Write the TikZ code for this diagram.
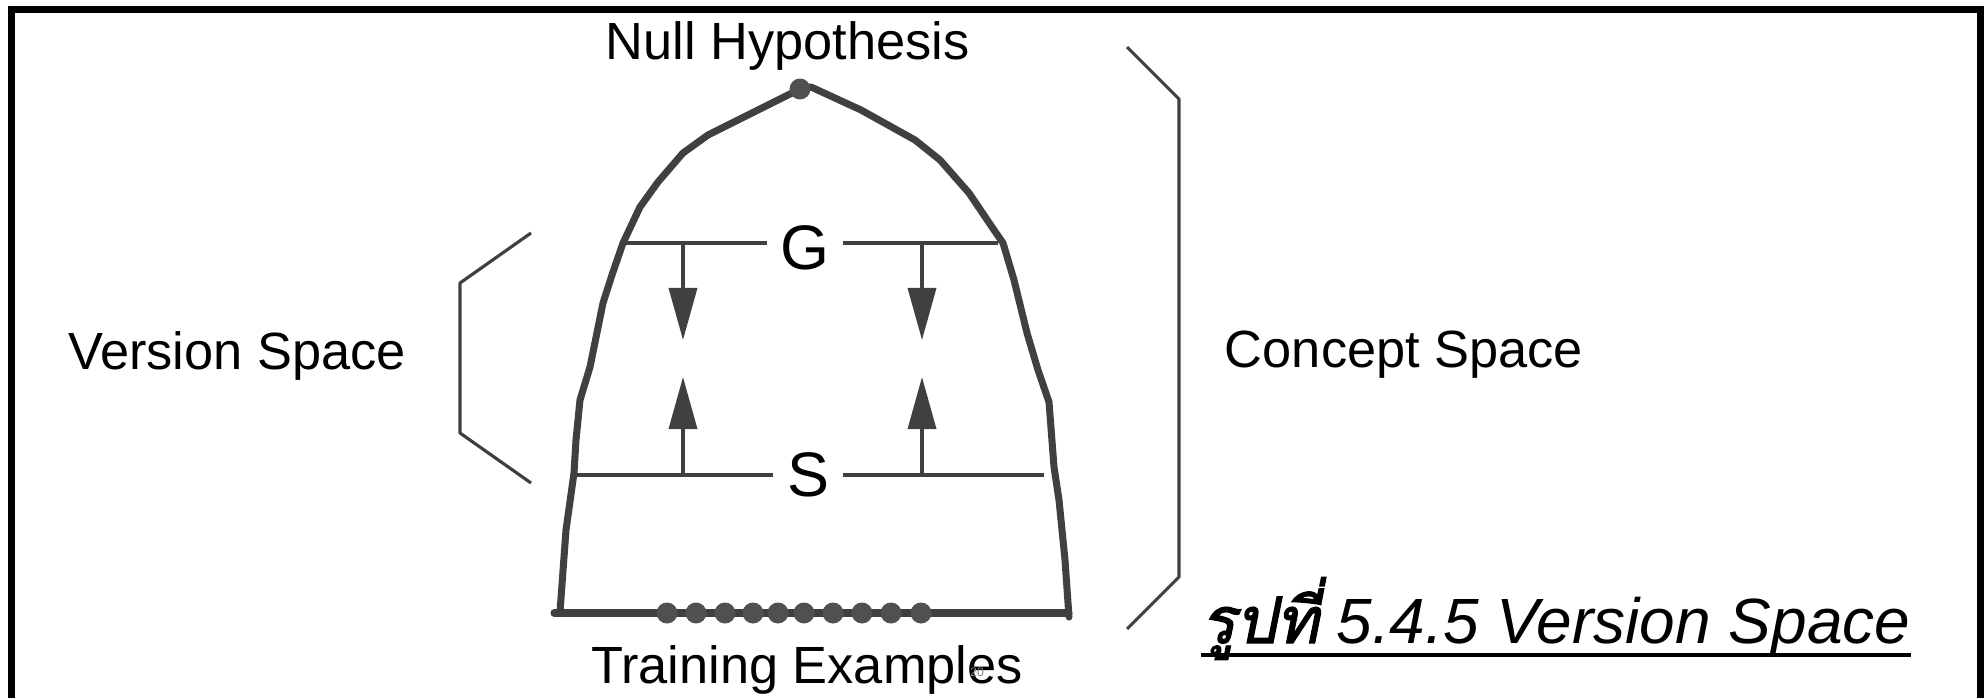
\documentclass[tikz,border=0pt]{standalone}
\usepackage{fontspec}
\setmainfont{Liberation Sans}
\newfontfamily\thaifont[Script=Thai, ItalicFont=Loma,
  ItalicFeatures={FakeSlant=0.2, FakeBold=2}]{Loma}
\definecolor{vsgray}{HTML}{404040}
\definecolor{dotgray}{HTML}{505050}
\usetikzlibrary{arrows.meta, positioning}

\begin{document}
\begin{tikzpicture}[
      lbl/.style={font=\fontsize{14.9}{18}\selectfont, inner sep=0},
      bound/.style={font=\fontsize{17.9}{21}\selectfont, inner ysep=0, inner xsep=1.3mm},
      title/.style={font=\fontsize{18.2}{21}\selectfont\itshape, inner sep=0},
      hull/.style={vsgray, line width=2pt, line join=round, line cap=round},
      bar/.style={vsgray, line width=1pt},
      brace/.style={vsgray, line width=0.9pt, line join=round},
      arrow/.style={-{Triangle[length=5.2mm, width=2.8mm]}, vsgray, line width=1pt},
      example/.style={circle, fill=dotgray, inner sep=0, minimum size=2.1mm}
    ]
      \useasboundingbox (0,0) rectangle (19.88,6.98);
      \draw[line width=2pt] (0.115,0) |- (19.80,6.885) -- (19.80,0);

      % concept space hull
      \draw[hull] (5.60,0.86) -- (5.66,1.68) -- (5.74,2.25) -- (5.76,2.58) -- (5.80,2.98)
        -- (5.90,3.31) -- (6.03,3.95) -- (6.12,4.23) -- (6.23,4.55) -- (6.40,4.91)
        -- (6.58,5.16) -- (6.83,5.45) -- (7.08,5.63) -- (7.54,5.86) -- (8.00,6.09)
        -- (8.11,6.11) -- (8.61,5.88) -- (9.15,5.58) -- (9.40,5.38) -- (9.69,5.05)
        -- (9.94,4.68) -- (10.03,4.55) -- (10.14,4.18) -- (10.27,3.65) -- (10.38,3.28)
        -- (10.49,2.96) -- (10.54,2.31) -- (10.59,1.98) -- (10.65,1.38) -- (10.69,0.81);
      \draw[hull] (5.54,0.85) -- (10.69,0.85);
      \node[example] (top) at (8.00,6.09) {};
      \foreach \x [count=\i] in {6.67,6.96,7.25,7.53,7.78,8.04,8.33,8.62,8.91,9.21}
        \node[example] (ex\i) at (\x,0.85) {};

      % G and S boundaries
      \node[bound] (G) at (8.05,4.50) {G};
      \node[bound] (S) at (8.08,2.23) {S};
      \coordinate (gl) at (6.24,4.55);
      \coordinate (gr) at (9.98,4.55);
      \coordinate (sl) at (5.75,2.23);
      \coordinate (sr) at (10.44,2.23);
      \draw[bar] (gl) -- (gl -| G.west);
      \draw[bar] (gr -| G.east) -- (gr);
      \draw[bar] (sl) -- (sl -| S.west);
      \draw[bar] (sr -| S.east) -- (sr);

      \coordinate (g1) at (6.83,4.55);
      \coordinate (g2) at (9.22,4.55);
      \coordinate (s1) at (6.83,2.23);
      \coordinate (s2) at (9.22,2.23);
      \coordinate (d1) at (6.83,3.58);
      \coordinate (d2) at (9.22,3.58);
      \coordinate (u1) at (6.83,3.21);
      \coordinate (u2) at (9.22,3.21);
      \draw[arrow] (g1) -- (d1);
      \draw[arrow] (g2) -- (d2);
      \draw[arrow] (s1) -- (u1);
      \draw[arrow] (s2) -- (u2);

      % brackets
      \draw[brace] (5.31,4.65) -- (4.60,4.15) -- (4.60,2.65) -- (5.31,2.15);
      \draw[brace] (11.27,6.51) -- (11.79,5.99) -- (11.79,1.21) -- (11.27,0.69);

      \node[lbl, anchor=base] (null) at (7.875,6.38) {Null Hypothesis};
      \node[lbl, anchor=base] (vs) at (2.37,3.29) {Version Space};
      \node[lbl, anchor=base] (cs) at (14.04,3.31) {Concept Space};
      \node[lbl, anchor=base] (train) at (8.07,0.15) {Training Examples};
      \node[font=\fontsize{3.5}{4}\selectfont, gray, inner sep=0] (page) at (9.77,0.26) {20};

      \node[title, anchor=base west] (cap) at (12.01,0.55) {{\thaifont รูปที่} 5.4.5 Version Space};
      \draw[line width=0.9pt] ([yshift=-1.2mm]cap.base west) -- ([yshift=-1.2mm]cap.base east);
    \end{tikzpicture}
\end{document}
